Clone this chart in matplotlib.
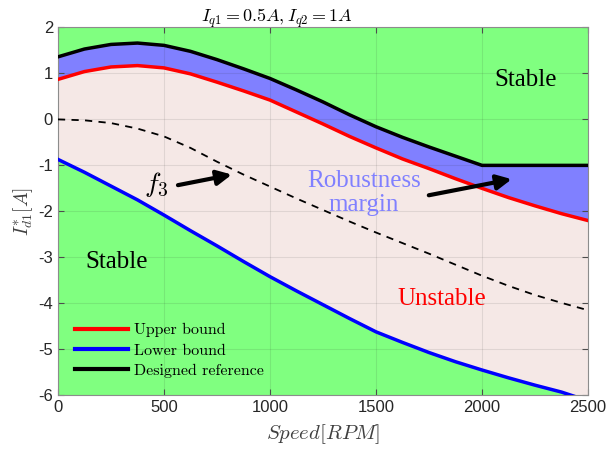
import numpy as np
import matplotlib.pyplot as plt

plt.rcParams['mathtext.fontset'] = 'cm'
plt.rcParams['axes.unicode_minus'] = False

# speed grid (rpm)
speed = [0, 125, 250, 375, 500, 625, 750, 875, 1000, 1125, 1250,
         1375, 1500, 1625, 1750, 1875, 2000, 2125, 2250, 2375, 2500]

# upper bound of the unstable region
upper = [0.87, 1.04, 1.14, 1.17, 1.12, 0.99, 0.81, 0.62, 0.42, 0.16, -0.10,
         -0.37, -0.62, -0.86, -1.07, -1.29, -1.50, -1.70, -1.88, -2.05, -2.20]
# lower bound of the unstable region
lower = [-0.87, -1.15, -1.45, -1.75, -2.08, -2.42, -2.75, -3.09, -3.42, -3.73, -4.03,
         -4.33, -4.62, -4.85, -5.07, -5.27, -5.45, -5.62, -5.78, -5.93, -6.12]
# designed current reference
designed = [1.36, 1.53, 1.63, 1.66, 1.61, 1.48, 1.30, 1.10, 0.89, 0.64, 0.38,
            0.10, -0.16, -0.39, -0.60, -0.80, -1.00, -1.00, -1.00, -1.00, -1.00]
# f3 curve
f3 = [0.0, -0.02, -0.08, -0.20, -0.37, -0.62, -0.92, -1.20, -1.46, -1.72, -1.97,
      -2.22, -2.46, -2.69, -2.92, -3.16, -3.40, -3.62, -3.82, -3.99, -4.15]

green = (0.5, 1.0, 0.5)
band = (0.5, 0.5, 1.0)
pink = (0.96, 0.91, 0.90)
serif = ['Liberation Serif', 'DejaVu Serif']

fig = plt.figure(figsize=(6.1, 4.57), dpi=100)
ax = fig.add_axes([0.095, 0.135, 0.869, 0.805])
ax.set_facecolor(green)

ax.fill_between(speed, lower, upper, color=pink, lw=0, zorder=1)
ax.fill_between(speed, upper, designed, color=band, lw=0, zorder=1)

ax.plot(speed, upper, color='r', lw=2.5, label='Upper bound', zorder=3)
ax.plot(speed, lower, color='b', lw=2.5, label='Lower bound', zorder=3)
ax.plot(speed, designed, color='k', lw=2.5, label='Designed reference', zorder=3)
ax.plot(speed, f3, color='k', lw=1.3, ls=(0, (4, 3.5)), zorder=3)

ax.set_xlim(0, 2500)
ax.set_ylim(-6, 2)
ax.set_xticks(range(0, 2501, 500))
ax.set_yticks(range(-6, 3))
ax.grid(True, color=(0.15, 0.15, 0.15), alpha=0.1, lw=0.8, zorder=2)
ax.tick_params(direction='in', top=True, right=True, labelsize=12,
               labelcolor=(0.15, 0.15, 0.15), color=(0.3, 0.3, 0.3), length=4)
for lbl in ax.get_xticklabels() + ax.get_yticklabels():
    lbl.set_family('Liberation Sans')
for sp in ax.spines.values():
    sp.set_color((0.55, 0.55, 0.55))
    sp.set_linewidth(0.8)

ax.set_title(r'$I_{q1}=0.5A, I_{q2}=1A$', fontsize=13, x=0.413, pad=4)
ax.set_xlabel(r'$Speed[RPM]$', fontsize=15, color=(0.25, 0.25, 0.25), labelpad=5)
ax.set_ylabel(r'$I_{d1}^{*}[A]$', fontsize=14, color=(0.25, 0.25, 0.25), labelpad=2)

# region labels
ax.text(2205, 0.85, 'Stable', fontsize=18, family=serif, ha='center', va='center')
ax.text(276, -3.1, 'Stable', fontsize=18, family=serif, ha='center', va='center')
ax.text(1811, -3.9, 'Unstable', fontsize=18, family=serif, color='r',
        ha='center', va='center')
ax.text(1443, -1.6, 'Robustness\nmargin', fontsize=18, family=serif, color=band,
        ha='center', va='center', linespacing=1.1)
ax.text(464, -1.42, r'$f_3$', fontsize=20, ha='center', va='center')

arrow = dict(arrowstyle='-|>', color='k', lw=3, mutation_scale=22, shrinkA=0, shrinkB=0)
ax.annotate('', xy=(820, -1.2), xytext=(566, -1.43), arrowprops=arrow, zorder=4)
ax.annotate('', xy=(2140, -1.3), xytext=(1749, -1.65), arrowprops=arrow, zorder=4)

leg = ax.legend(loc='lower left', bbox_to_anchor=(0.02, 0.03), frameon=False,
                prop={'family': 'cmr10', 'size': 11.5}, handlelength=3.3,
                handletextpad=0.4, labelspacing=0.38, borderaxespad=0)
for ln in leg.get_lines():
    ln.set_linewidth(3)

fig.savefig('out.png', dpi=100)
